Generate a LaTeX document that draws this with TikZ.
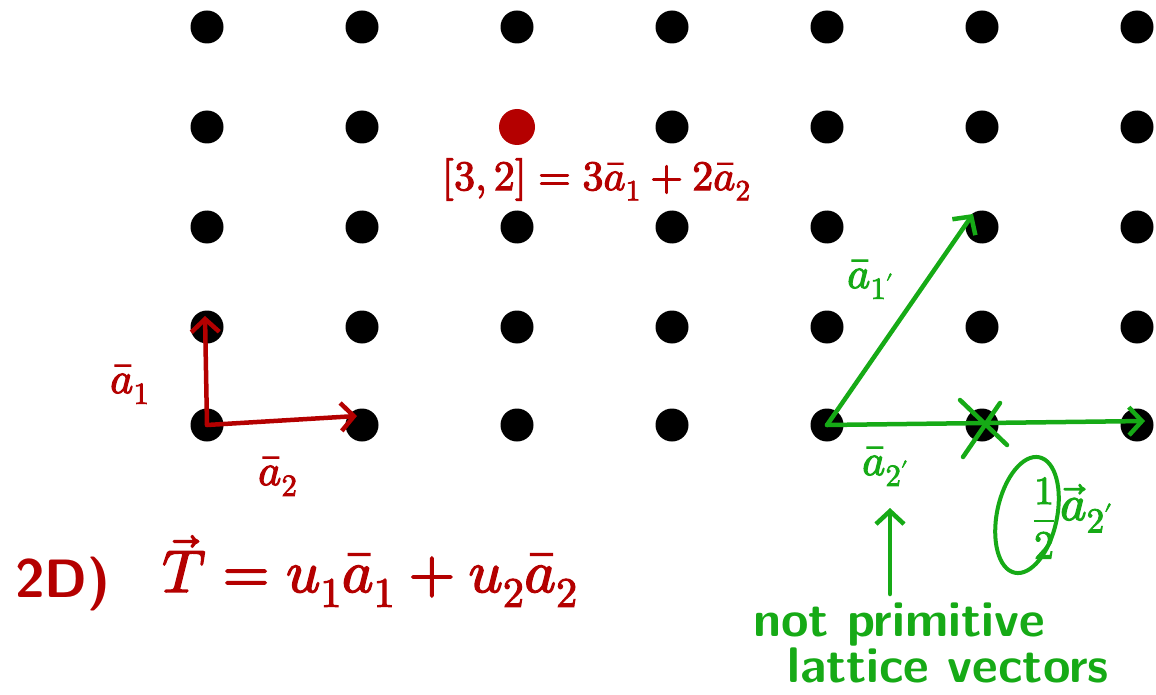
\documentclass[tikz,border=0pt]{standalone}
\usepackage{fontspec}
\usepackage{unicode-math}
\setmathfont{Latin Modern Math}
\setmathfont{Latin Modern Math}[version=bold,FakeBold=2.5]
\usetikzlibrary{arrows.meta,calc}
\definecolor{hred}{RGB}{180,0,0}
\definecolor{hgreen}{RGB}{22,170,22}
\begin{document}
\begin{tikzpicture}[x=1pt,y=-1pt,
  dot/.style={circle,fill=black,inner sep=0pt,minimum size=33pt},
  redpen/.style={draw=hred,line width=4.5pt,line cap=round,line join=round},
  greenpen/.style={draw=hgreen,line width=4.5pt,line cap=round,line join=round},
  tip/.style={-{Straight Barb[length=13pt,width=28pt]}},
  redtxt/.style={text=hred,inner sep=0pt,anchor=base west},
  greentxt/.style={text=hgreen,inner sep=0pt,anchor=base west},
  big/.style={font=\fontsize{60}{60}\selectfont\boldmath},
  mid/.style={font=\fontsize{42}{42}\selectfont\boldmath},
  lab/.style={font=\fontsize{44}{44}\selectfont\boldmath},
  hand/.style={font=\fontsize{50}{50}\selectfont\sffamily\bfseries}]
\useasboundingbox (0,0) rectangle (1156,695);
% lattice
\foreach \i/\x in {1/207,2/362,3/517,4/672,5/827,6/982,7/1137}
  \foreach \j/\y in {1/27,2/127,3/227,4/327,5/425}
    \node[dot] (d\i\j) at (\x,\y) {};
% red highlighted point
\node[circle,fill=hred,inner sep=0pt,minimum size=36pt] (rd) at (d32) {};
\node[redtxt,mid] (rlab) at (442,190) {$[3,2]=3\bar a_1+2\bar a_2$};
% red basis vectors
\coordinate (a1tip) at (205,316);
\coordinate (a2tip) at (357,416);
\draw[redpen,tip] (d15.center) -- (a1tip);
\draw[redpen,tip] (d15.center) -- (a2tip);
\node[redtxt,lab] (la1) at (110,393) {$\bar a_1$};
\node[redtxt,lab] (la2) at (258,485) {$\bar a_2$};
% bottom formula
\node[redtxt,font=\fontsize{54}{54}\selectfont\sffamily\bfseries] (twod) at (15,597) {2D)};
\node[redtxt,big] (eq) at (162,592) {$\vec T = u_1\bar a_1 + u_2\bar a_2$};
% green non-primitive vectors
\coordinate (g1tip) at (973,214);
\coordinate (g2tip) at (1145,421);
\draw[greenpen,tip] (d55.center) -- (g1tip);
\draw[greenpen,tip] (d55.center) -- (g2tip);
\draw[greenpen] ($(d65.center)+(-22,-25)$) -- ($(d65.center)+(25,20)$);
\draw[greenpen] ($(d65.center)+(18,-22)$) -- ($(d65.center)+(-19,32)$);
\node[greentxt,lab] (ga1) at (847,288) {$\bar a_{1'}$};
\node[greentxt,lab] (ga2) at (862,475) {$\bar a_{2'}$};
% half of a2'
\node[text=hgreen,inner sep=0pt,font=\fontsize{40}{40}\selectfont\boldmath] (half) at (1044,518) {$\displaystyle\frac{1}{2}$};
\draw[greenpen,line width=4pt,rotate around={-12:(1027,515)}] (1027,515) ellipse [x radius=30, y radius=59];
\node[greentxt,font=\fontsize{50}{50}\selectfont\boldmath] (va2) at (1060,520) {$\vec a_{2'}$};
% annotation
\node[greentxt,hand] (np) at (753,636) {not primitive};
\node[greentxt,hand] (lv) at (787,682) {lattice vectors};
\coordinate (arrb) at (890,594);
\coordinate (arrt) at (890,508);
\draw[greenpen,tip] (arrb) -- (arrt);
\end{tikzpicture}
\end{document}
